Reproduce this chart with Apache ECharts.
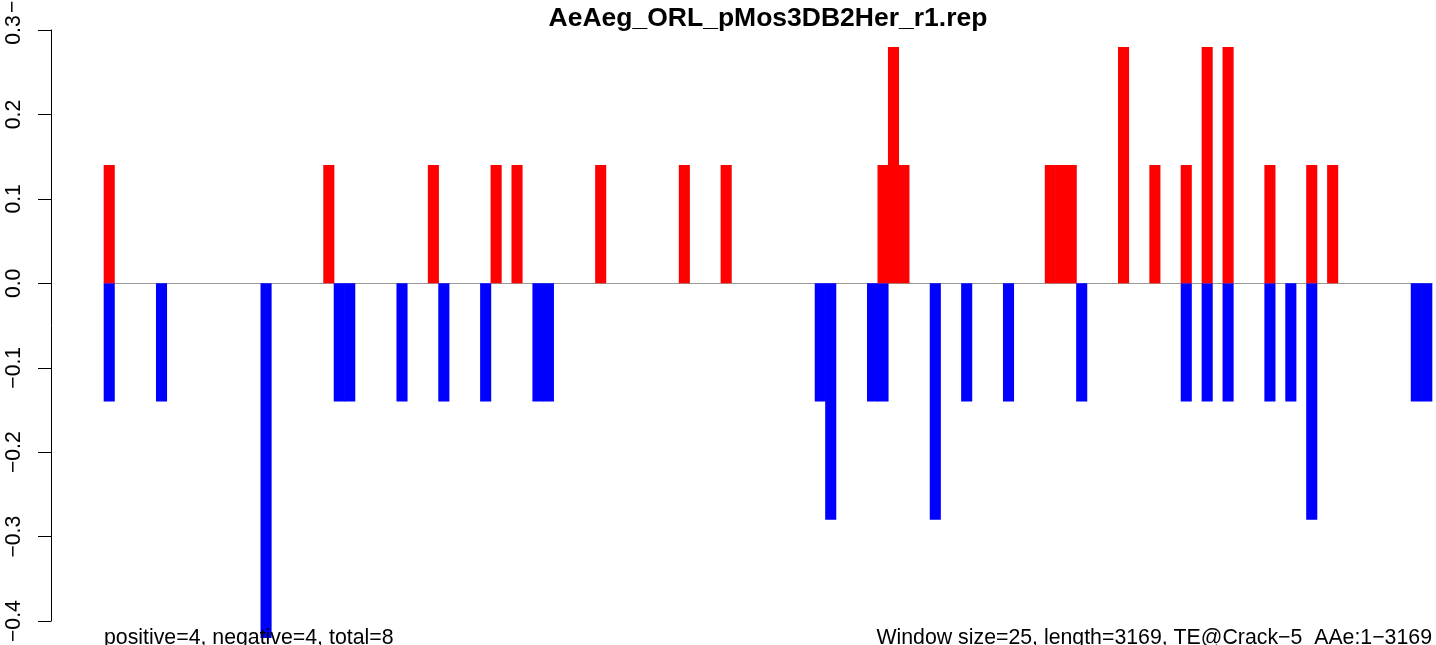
<!DOCTYPE html>
<html>
<head>
<meta charset="utf-8">
<script src="https://cdn.jsdelivr.net/npm/echarts@6/dist/echarts.min.js"></script>
<style>
html,body{margin:0;padding:0;background:#fff;}
#chart{width:1436px;height:645px;}
</style>
</head>
<body>
<div id="chart"></div>
<script>
// ---- data ----
var titleText = "AeAeg_ORL_pMos3DB2Her_r1.rep";
var leftNote = "positive=4, negative=4, total=8";
var rightNote = "Window size=25, length=3169, TE@Crack\u22125  AAe:1\u22123169";
var windowSize = 25;
var seqLength = 3169;
var binCount = 127;
// positive windows (bin index, value)
var posBins = [0, 21, 31, 37, 39, 47, 55, 59, 74, 75, 76, 90, 91, 92, 97, 100, 103, 105, 107, 111, 115, 117];
var posVals = [0.14, 0.14, 0.14, 0.14, 0.14, 0.14, 0.14, 0.14, 0.14, 0.28, 0.14, 0.14, 0.14, 0.14, 0.28, 0.14, 0.14, 0.28, 0.28, 0.14, 0.14, 0.14];
// negative windows (bin index, value)
var negBins = [0, 5, 15, 22, 23, 28, 32, 36, 41, 42, 68, 69, 73, 74, 79, 82, 86, 93, 103, 105, 107, 111, 113, 115, 125, 126];
var negVals = [-0.14, -0.14, -0.42, -0.14, -0.14, -0.14, -0.14, -0.14, -0.14, -0.14, -0.14, -0.28, -0.14, -0.14, -0.28, -0.14, -0.14, -0.14, -0.14, -0.14, -0.14, -0.14, -0.14, -0.28, -0.14, -0.14];
var yTicks = [-0.4, -0.3, -0.2, -0.1, 0.0, 0.1, 0.2, 0.3];

// ---- build ----
var categories = [];
var posData = [];
var negData = [];
for (var i = 0; i < binCount; i++) {
  categories.push(String(i * windowSize + 1));
  posData.push('-');
  negData.push('-');
}
posBins.forEach(function (b, k) { posData[b] = posVals[k]; });
negBins.forEach(function (b, k) { negData[b] = negVals[k]; });

var FONT = 'Liberation Sans, Arial, Helvetica, sans-serif';
var chart = echarts.init(document.getElementById('chart'), null, {renderer: 'canvas'});
chart.setOption({
  animation: false,
  backgroundColor: '#ffffff',
  title: {
    text: titleText,
    left: 763,
    top: 0,
    textAlign: 'center',
    textStyle: {fontFamily: FONT, fontWeight: 'bold', fontSize: 26.5, color: '#000'}
  },
  grid: {left: 104, right: 4, top: 30, bottom: 18, containLabel: false},
  xAxis: {
    type: 'category',
    data: categories,
    boundaryGap: true,
    axisLine: {show: true, onZero: true, lineStyle: {color: '#9a9a9a', width: 1}},
    axisTick: {show: false},
    axisLabel: {show: false},
    splitLine: {show: false}
  },
  yAxis: {
    type: 'value',
    min: yTicks[0],
    max: yTicks[yTicks.length - 1],
    interval: 0.1,
    offset: 53,
    axisLine: {show: true, lineStyle: {color: '#000', width: 1}},
    axisTick: {show: true, length: 13, lineStyle: {color: '#000', width: 1}},
    axisLabel: {
      rotate: 90,
      margin: 26,
      fontFamily: FONT,
      fontSize: 21.2,
      color: '#000',
      formatter: function (v) {
        var s = (Math.round(v * 10) / 10).toFixed(1);
        return s.replace('-', '\u2212');
      }
    },
    splitLine: {show: false}
  },
  series: [
    {
      type: 'bar',
      name: 'negative',
      data: negData,
      barGap: '-100%',
      barWidth: '106%',
      clip: false,
      itemStyle: {color: '#0000ff'}
    },
    {
      type: 'bar',
      name: 'positive',
      data: posData,
      barGap: '-100%',
      barWidth: '106%',
      clip: false,
      itemStyle: {color: '#ff0000'}
    }
  ],
  graphic: [
    {
      type: 'text',
      left: 104,
      bottom: -4,
      z: 100,
      style: {text: leftNote, font: '21.3px ' + FONT, fill: '#000'}
    },
    {
      type: 'text',
      right: 4,
      bottom: -4,
      z: 100,
      style: {text: rightNote, font: '21.3px ' + FONT, fill: '#000'}
    },
    {
      type: 'text',
      x: 13,
      y: 13,
      rotation: Math.PI / 2,
      style: {text: '\u22120.4', font: '21.2px ' + FONT, fill: '#000', textAlign: 'left', textVerticalAlign: 'middle'}
    }
  ]
});
</script>
</body>
</html>
